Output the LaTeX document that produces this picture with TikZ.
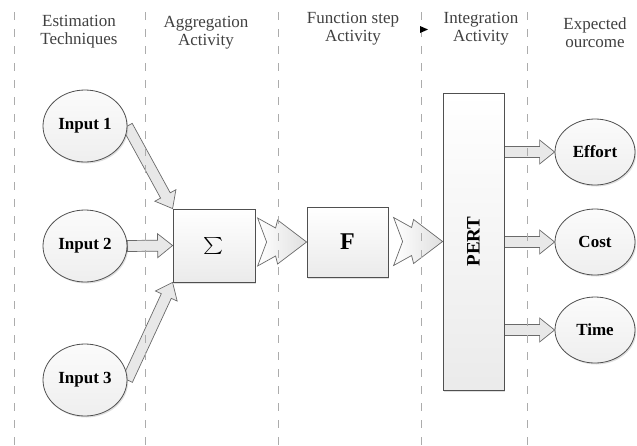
\documentclass[tikz,border=0pt]{standalone}
\usepackage{fontspec}
\setmainfont{Liberation Serif}
\usetikzlibrary{calc,shapes.geometric,shadows,backgrounds}

\definecolor{hdr}{HTML}{404040}
\definecolor{edgecol}{HTML}{505050}
\definecolor{arrowedge}{HTML}{6A6A6A}

\tikzset{
  lane/.style={draw=gray!65, line width=1pt, dash pattern=on 8pt off 9pt},
  header/.style={align=center, text=hdr, font=\fontsize{17}{18}\selectfont},
  softshadow/.style={drop shadow={shadow xshift=1.2pt, shadow yshift=-1.5pt, opacity=0.25}},
  bubble/.style={ellipse, draw=edgecol, line width=0.8pt, top color=gray!3, bottom color=gray!13,
    minimum width=84pt, minimum height=72pt, inner sep=0pt,
    font=\bfseries\fontsize{17}{18}\selectfont, softshadow},
  outbubble/.style={bubble, minimum width=80pt, minimum height=66pt},
  procbox/.style={rectangle, draw=edgecol, line width=0.8pt, top color=white, bottom color=gray!16,
    inner sep=0pt, softshadow},
  barrow/.style={draw=arrowedge, line width=0.7pt, fill=gray!18},
  chevstyle/.style={draw=arrowedge, line width=0.7pt, left color=white, right color=gray!25},
  chev/.pic={\path[chevstyle] (-49,-24) -- (-31,-14) -- (-29,-22) -- (0,0) -- (-29,22)
    -- (-31,14) -- (-49,24) -- (-40,0) -- cycle;}
}

% block arrow with a flat tail at #1 and its tip at #2
\newcommand\blockarr[2]{%
  \coordinate (hb) at ($(#2)!15pt!(#1)$);
  \path[barrow] ($(#1)!5.5pt!90:(#2)$) -- ($(hb)!5.5pt!90:(#2)$) -- ($(hb)!12pt!90:(#2)$)
    -- (#2) -- ($(hb)!12pt!-90:(#2)$) -- ($(hb)!5.5pt!-90:(#2)$) -- ($(#1)!5.5pt!-90:(#2)$) -- cycle;}

\begin{document}
\begin{tikzpicture}[x=1pt, y=-1pt]
\useasboundingbox (0,0) rectangle (637,445);

% lane headers
\node[header] (h1) at (79,31.5)  {Estimation\\Techniques};
\node[header] (h2) at (206,32.5) {Aggregation\\Activity};
\node[header] (h3) at (353,29)   {Function step\\Activity};
\node[header] (h4) at (481,29)   {Integration\\Activity};
\node[header] (h5) at (595,32.5) {Expected\\ourcome};

% inputs
\node[bubble] (in1) at (85,126) {Input 1};
\node[bubble] (in2) at (85,246) {Input 2};
\node[bubble] (in3) at (85,380) {Input 3};

% processing blocks
\node[procbox, minimum width=82pt, minimum height=73pt] (sig) at (214,245.5)
  {\scalebox{1.9}[1.7]{$\sum$}};
\node[procbox, minimum width=81pt, minimum height=70pt] (f) at (347.5,242)
  {\bfseries\fontsize{24}{26}\selectfont F};
\node[procbox, minimum width=61pt, minimum height=297pt] (pert) at (473.5,241.5)
  {\rotatebox{90}{\bfseries\fontsize{19}{20}\selectfont PERT}};

% outcomes
\node[outbubble] (eff)  at (595,152) {Effort};
\node[outbubble] (cost) at (595,242) {Cost};
\node[outbubble] (time) at (595,330) {Time};

% connectors, kept behind the shapes
\begin{scope}[on background layer]
  \blockarr{in1.east}{sig.north west}
  \blockarr{in2.east}{sig.west}
  \blockarr{in3.east}{sig.south west}
  \blockarr{pert.east |- eff.west}{eff.west}
  \blockarr{pert.east |- cost.west}{cost.west}
  \blockarr{pert.east |- time.west}{time.west}
  \pic at (f.west) {chev};
  \pic at (pert.west) {chev};
\end{scope}

% lane separators
\foreach \lx in {14.5,145,278,421.5,527}
  \draw[lane] (\lx,12) -- (\lx,445);

% small marker next to the fourth separator
\coordinate (mk) at (420,29.5);
\fill (mk) ++(0,-3.5) -- ++(8,3.5) -- ++(-8,3.5) -- cycle;
\end{tikzpicture}
\end{document}
